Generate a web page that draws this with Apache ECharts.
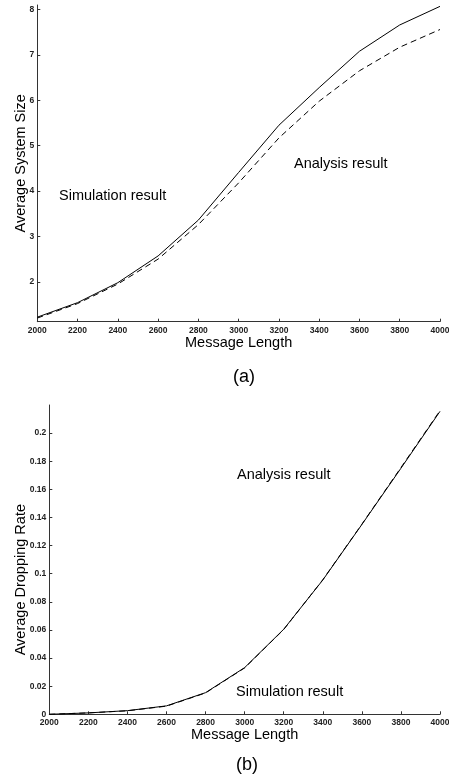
<!DOCTYPE html>
<html>
<head>
<meta charset="utf-8">
<script src="https://cdn.jsdelivr.net/npm/echarts@6/dist/echarts.min.js"></script>
<style>
html,body{margin:0;padding:0;background:#fff;}
#chart{width:449px;height:782px;}
</style>
</head>
<body>
<div id="chart"></div>
<script>
// ---- data ----
const messageLength = [2000, 2200, 2400, 2600, 2800, 3000, 3200, 3400, 3600, 3800, 4000];
// (a) Average System Size
const sizeSolid  = [1.22, 1.54, 1.98, 2.57, 3.36, 4.41, 5.45, 6.28, 7.08, 7.66, 8.07];
const sizeDashed = [1.20, 1.52, 1.95, 2.50, 3.26, 4.18, 5.17, 5.98, 6.65, 7.17, 7.56];
// (b) Average Dropping Rate
const dropSolid  = [0, 0.0010, 0.0026, 0.0060, 0.0154, 0.0332, 0.0605, 0.0955, 0.1350, 0.1750, 0.2155];
const dropDashed = [0, 0.0010, 0.0025, 0.0058, 0.0152, 0.0330, 0.0603, 0.0957, 0.1352, 0.1755, 0.2160];
// tick labels
const xTicks = [2000, 2200, 2400, 2600, 2800, 3000, 3200, 3400, 3600, 3800, 4000];
const sizeTicks = [2, 3, 4, 5, 6, 7, 8];
const dropTicks = [0, 0.02, 0.04, 0.06, 0.08, 0.1, 0.12, 0.14, 0.16, 0.18, 0.2];

const FONT = '"Liberation Sans", Arial, sans-serif';
const pairs = (ys) => messageLength.map((x, i) => [x, ys[i]]);

const chart = echarts.init(document.getElementById('chart'), null, {renderer: 'canvas'});

function xAxisCfg(gridIndex, gap) {
  return {
    type: 'value', gridIndex, min: 2000, max: 4000, interval: 200,
    name: 'Message Length', nameLocation: 'middle', nameGap: gap, nameMoveOverlap: false,
    nameTextStyle: {fontFamily: FONT, fontSize: 14.5, color: '#000'},
    axisLine: {show: true, onZero: false, lineStyle: {color: '#333', width: 1}},
    axisTick: {show: true, inside: true, length: 3, lineStyle: {color: '#333'}, customValues: xTicks},
    axisLabel: {show: true, fontFamily: FONT, fontSize: 8.5, fontWeight: 'bold', color: '#222', margin: 4,
      customValues: xTicks, formatter: (v) => String(v)},
    splitLine: {show: false}
  };
}
function yAxisCfg(gridIndex, name, min, max, ticks, gap, pad) {
  return {
    type: 'value', gridIndex, min, max,
    name, nameLocation: 'middle', nameGap: gap, nameMoveOverlap: false,
    nameTextStyle: {fontFamily: FONT, fontSize: 14.5, color: '#000', padding: pad},
    axisLine: {show: true, onZero: false, lineStyle: {color: '#333', width: 1}},
    axisTick: {show: true, inside: true, length: 3, lineStyle: {color: '#333'}, customValues: ticks},
    axisLabel: {show: true, fontFamily: FONT, fontSize: 8.5, fontWeight: 'bold', color: '#222', margin: 3,
      customValues: ticks, formatter: (v) => String(v)},
    splitLine: {show: false}
  };
}
function lineSeries(xi, data, dashed) {
  return {
    type: 'line', xAxisIndex: xi, yAxisIndex: xi, data: pairs(data),
    showSymbol: false, symbol: 'none', silent: true, animation: false,
    lineStyle: {color: '#000', width: 1, type: dashed ? [6, 4] : 'solid'}
  };
}

const option = {
  backgroundColor: '#fff',
  animation: false,
  grid: [
    {left: 37.3, right: 9, top: 5, height: 316.7, containLabel: false, outerBoundsMode: 'none'},
    {left: 49.3, right: 9, top: 405, height: 309.3, containLabel: false, outerBoundsMode: 'none'}
  ],
  xAxis: [xAxisCfg(0, 14), xAxisCfg(1, 13.5)],
  yAxis: [
    yAxisCfg(0, 'Average System Size', 1.12, 8.1, sizeTicks, 9, [0, 0, 0, 0]),
    yAxisCfg(1, 'Average Dropping Rate', 0, 0.22, dropTicks, 21, [0, 40, 0, 0])
  ],
  series: [
    lineSeries(0, sizeSolid, false),
    lineSeries(0, sizeDashed, true),
    lineSeries(1, dropSolid, false),
    lineSeries(1, dropDashed, true)
  ],
  graphic: [
    {type: 'text', x: 59, y: 196, style: {text: 'Simulation result', font: '14.5px ' + FONT, fill: '#000', verticalAlign: 'middle'}},
    {type: 'text', x: 294, y: 164, style: {text: 'Analysis result', font: '14.5px ' + FONT, fill: '#000', verticalAlign: 'middle'}},
    {type: 'text', x: 237, y: 475, style: {text: 'Analysis result', font: '14.5px ' + FONT, fill: '#000', verticalAlign: 'middle'}},
    {type: 'text', x: 236, y: 692, style: {text: 'Simulation result', font: '14.5px ' + FONT, fill: '#000', verticalAlign: 'middle'}},
    {type: 'text', x: 244, y: 377, style: {text: '(a)', font: '18px ' + FONT, fill: '#000', align: 'center', verticalAlign: 'middle'}},
    {type: 'text', x: 247, y: 765, style: {text: '(b)', font: '18px ' + FONT, fill: '#000', align: 'center', verticalAlign: 'middle'}}
  ]
};
chart.setOption(option);
</script>
</body>
</html>
